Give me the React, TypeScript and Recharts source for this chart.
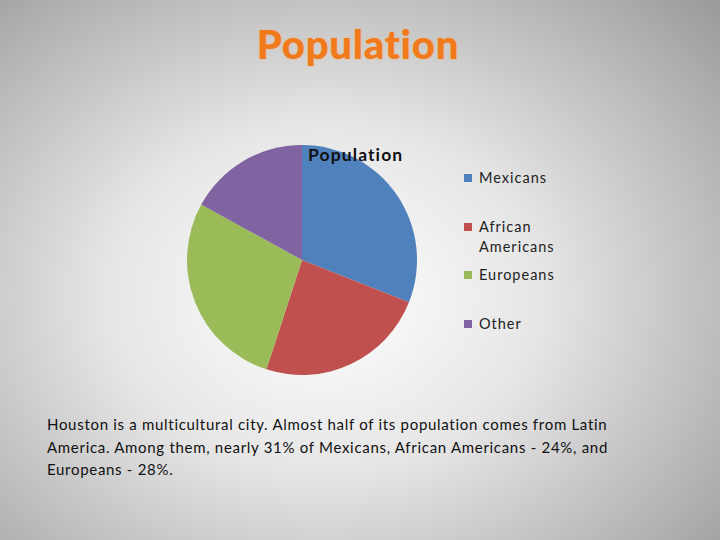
import React from 'react';
import { PieChart, Pie, Cell, Legend } from 'recharts';

const categories = ['Mexicans', 'African Americans', 'Europeans', 'Other'];
const values = [31, 24, 28, 17];
const colors = ['#4F81BD', '#C0504D', '#9BBB59', '#8064A2'];
const legendLines = [['Mexicans'], ['African', 'Americans'], ['Europeans'], ['Other']];

const data = categories.map((name, i) => ({ name, value: values[i] }));

const font = 'Lato, "Open Sans", "Liberation Sans", sans-serif';

const LegendContent = (props: any) => {
  const payload = props.payload || [];
  const tops = [0, 49, 97, 146];
  return (
    <div style={{ position: 'relative', width: 140, height: 170, fontFamily: font, fontSize: 14.5, letterSpacing: 1, color: '#222' }}>
      {payload.map((p: any) => {
        const i = categories.indexOf(p.value);
        return (
          <div key={p.value} style={{ position: 'absolute', left: 0, top: tops[i], display: 'flex' }}>
            <div style={{ width: 8, height: 8, background: colors[i], marginTop: 6, marginRight: 7 }} />
            <div style={{ lineHeight: '20px' }}>
              {legendLines[i].map((l) => (
                <div key={l}>{l}</div>
              ))}
            </div>
          </div>
        );
      })}
    </div>
  );
};

export default function App() {
  return (
    <div
      style={{
        position: 'absolute',
        left: 0,
        top: 0,
        width: 720,
        height: 540,
        overflow: 'hidden',
        background: 'radial-gradient(ellipse 75% 80% at 45% 55%, #ffffff 0%, #e6e6e6 40%, #b4b4b4 80%, #9a9a9a 100%)',
        fontFamily: font,
      }}
    >
      <div
        style={{
          position: 'absolute',
          left: 0,
          width: 716,
          top: 20,
          textAlign: 'center',
          fontSize: 40,
          fontWeight: 900,
          letterSpacing: 0.8,
          color: '#F07A1C',
          textShadow: '0 0 2px #f8b070',
          fontFamily: font,
        }}
      >
        Population
      </div>
      <div style={{ position: 'absolute', left: 0, top: 0 }}>
        <PieChart width={720} height={540} margin={{ top: 0, right: 0, bottom: 0, left: 0 }}>
          <Pie
            data={data}
            dataKey="value"
            nameKey="name"
            cx={302}
            cy={260}
            outerRadius={115}
            startAngle={90}
            endAngle={-270}
            stroke="none"
            isAnimationActive={false}
          >
            {data.map((d, i) => (
              <Cell key={d.name} fill={colors[i]} />
            ))}
          </Pie>
          <Legend
            layout="vertical"
            content={<LegendContent />}
            wrapperStyle={{ position: 'absolute', left: 464, top: 168, width: 140 }}
          />
        </PieChart>
      </div>
      <div
        style={{
          position: 'absolute',
          left: 308,
          top: 144,
          fontSize: 17.5,
          fontWeight: 700,
          letterSpacing: 1.1,
          color: '#111',
        }}
      >
        Population
      </div>
      <div
        style={{
          position: 'absolute',
          left: 47,
          top: 413,
          width: 640,
          fontSize: 15,
          letterSpacing: 0.7,
          lineHeight: '22.5px',
          color: '#111',
        }}
      >
        Houston is a multicultural city. Almost half of its population comes from Latin
        <br />
        America. Among them, nearly 31% of Mexicans, African Americans - 24%, and
        <br />
        Europeans - 28%.
      </div>
    </div>
  );
}
